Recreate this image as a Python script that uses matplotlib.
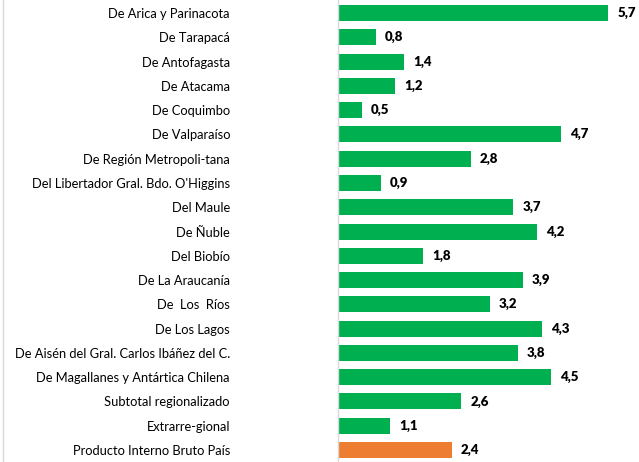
import matplotlib
matplotlib.use("Agg")
import matplotlib.pyplot as plt
from matplotlib.transforms import offset_copy

categories = [
    "De Arica y Parinacota", "De Tarapacá", "De Antofagasta", "De Atacama",
    "De Coquimbo", "De Valparaíso", "De Región Metropoli-tana",
    "Del Libertador Gral. Bdo. O'Higgins", "Del Maule", "De Ñuble", "Del Biobío",
    "De La Araucanía", "De  Los  Ríos", "De Los Lagos",
    "De Aisén del Gral. Carlos Ibáñez del C.", "De Magallanes y Antártica Chilena",
    "Subtotal regionalizado", "Extrarre-gional", "Producto Interno Bruto País",
]
values = [5.7, 0.8, 1.4, 1.2, 0.5, 4.7, 2.8, 0.9, 3.7, 4.2, 1.8, 3.9, 3.2, 4.3,
          3.8, 4.5, 2.6, 1.1, 2.4]
value_labels = ["5,7", "0,8", "1,4", "1,2", "0,5", "4,7", "2,8", "0,9", "3,7", "4,2",
                "1,8", "3,9", "3,2", "4,3", "3,8", "4,5", "2,6", "1,1", "2,4"]

green = "#00B050"
orange = "#ED7D31"
colors = [green] * (len(values) - 1) + [orange]

plt.rcParams['font.family'] = ['Lato', 'DejaVu Sans']

W, H = 639, 462
fig = plt.figure(figsize=(W / 100, H / 100), dpi=100)
x0 = 338
ax = fig.add_axes([x0 / W, 0, 1 - x0 / W, 1])

ppu = 47.4
ax.set_xlim(0, (W - x0) / ppu)
spacing = (450 - 13) / 18
ax.set_ylim(18 + (H - 450) / spacing, -13 / spacing)

y = list(range(len(values)))
ax.barh(y, values, height=16 / spacing, color=colors, edgecolor="none")

for yi, v, lab in zip(y, values, value_labels):
    ax.text(v, yi, lab, transform=offset_copy(ax.transData, fig=fig, x=9 * 0.72, y=0, units='points'),
            ha="left", va="center", fontsize=9.5, fontweight="heavy", color="#000000")

ax.set_yticks(y)
ax.set_yticklabels(categories, fontsize=9.3, color="#000000")
ax.tick_params(axis="y", length=0, pad=(x0 - 230) * 0.72)
ax.set_xticks([])
for s in ["top", "right", "bottom"]:
    ax.spines[s].set_visible(False)
ax.spines["left"].set_color("#D9D9D9")
ax.spines["left"].set_linewidth(1)

fig.add_artist(plt.Line2D([2.5 / W, 2.5 / W], [0, 1], color="#D9D9D9", linewidth=1, transform=fig.transFigure))

fig.savefig("out.png", dpi=100, facecolor="white")
